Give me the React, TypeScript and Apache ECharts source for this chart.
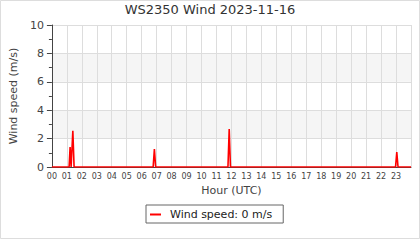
import React, { useEffect, useRef } from "react";
import * as echarts from "echarts";

// Sample times in minutes after midnight (UTC) and wind speed in m/s
const sampleMinutes = [0, 69, 73, 77, 79, 84, 89, 406, 411, 416, 706, 711, 716, 1378, 1383, 1388, 1440];
const windSpeeds = [0, 0, 1.4, 0, 0, 2.55, 0, 0, 1.27, 0, 0, 2.68, 0, 0, 1.06, 0, 0];
const yTicks = [0, 2, 4, 6, 8, 10];
const hourTicks = Array.from({ length: 24 }, (_, i) => String(i).padStart(2, "0"));

const TITLE = "WS2350 Wind 2023-11-16";
const SERIES_NAME = "Wind speed: 0 m/s";
const FONT = "DejaVu Sans";

export default function App() {
  const ref = useRef<HTMLDivElement>(null);
  useEffect(() => {
    document.body.style.margin = "0";
    if (!ref.current) return;
    const chart = echarts.init(ref.current, undefined, { renderer: "svg" });
    const data = sampleMinutes.map((m, i) => [m, windSpeeds[i]]);
    chart.setOption({
      animation: false,
      backgroundColor: "#fff",
      textStyle: { fontFamily: FONT },
      title: {
        text: TITLE,
        left: "center",
        top: 3,
        padding: 0,
        textStyle: { fontFamily: FONT, fontSize: 13, fontWeight: "normal", color: "#333" },
      },
      graphic: [
        {
          type: "rect",
          silent: true,
          shape: { x: 0.5, y: 0.5, width: 419, height: 238 },
          style: { fill: "none", stroke: "#ddd", lineWidth: 1 },
        },
      ],
      legend: {
        left: 146,
        top: 205,
        padding: [4, 11, 3, 4],
        borderColor: "#666",
        borderWidth: 1,
        itemWidth: 11,
        itemHeight: 2,
        icon: "rect",
        textStyle: { fontFamily: FONT, fontSize: 11, color: "#222", padding: [0, 0, 0, 4] },
        data: [SERIES_NAME],
      },
      grid: { left: 50, right: 9, top: 25, bottom: 73, containLabel: false },
      xAxis: {
        type: "value",
        min: 0,
        max: 1440,
        interval: 60,
        name: "Hour (UTC)",
        nameLocation: "middle",
        nameGap: 14,
        nameTextStyle: { fontFamily: FONT, fontSize: 11, color: "#444" },
        axisLine: { show: true, lineStyle: { color: "#444", width: 1 } },
        axisTick: { show: false },
        axisLabel: {
          fontFamily: FONT,
          fontSize: 8,
          color: "#444",
          margin: 5,
          formatter: (v: number) => hourTicks[Math.round(v / 60)] ?? "",
        },
        splitLine: { show: true, lineStyle: { color: "#ddd", width: 1 } },
      },
      yAxis: {
        type: "value",
        min: yTicks[0],
        max: yTicks[yTicks.length - 1],
        interval: 2,
        name: "Wind speed (m/s)",
        nameLocation: "middle",
        nameGap: 30,
        nameTextStyle: { fontFamily: FONT, fontSize: 11, color: "#444" },
        axisLine: { show: true, lineStyle: { color: "#444", width: 1 } },
        axisTick: { show: true, length: 5, lineStyle: { color: "#444" } },
        minorTick: { show: true, splitNumber: 2, length: 3, lineStyle: { color: "#444" } },
        axisLabel: { fontFamily: FONT, fontSize: 11, color: "#444", margin: 8 },
        splitLine: { show: true, lineStyle: { color: "#ddd", width: 1 } },
        splitArea: { show: true, areaStyle: { color: ["#ffffff", "#f5f5f5"] } },
      },
      series: [
        {
          name: SERIES_NAME,
          type: "line",
          data,
          showSymbol: false,
          symbol: "none",
          lineStyle: { color: "#ff0000", width: 1.6 },
          itemStyle: { color: "#ff0000" },
        },
      ],
    });
    return () => chart.dispose();
  }, []);
  return <div ref={ref} style={{ width: 420, height: 240 }} />;
}
